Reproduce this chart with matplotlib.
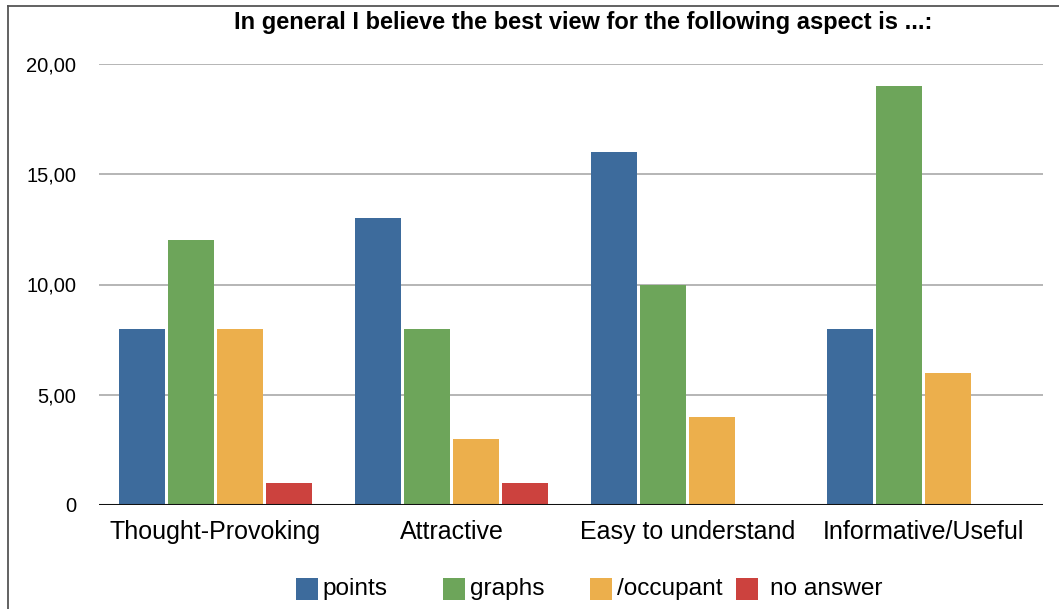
import matplotlib
matplotlib.use("Agg")
import matplotlib.pyplot as plt
import numpy as np
from matplotlib.lines import Line2D
from matplotlib.patches import Rectangle

plt.rcParams['font.family'] = ['Liberation Sans', 'DejaVu Sans']

title = "In general I believe the best view for the following aspect is ...:"
categories = ["Thought-Provoking", "Attractive", "Easy to understand", "Informative/Useful"]
series_names = ["points", "graphs", "/occupant", "no answer"]
points = [8, 13, 16, 8]
graphs = [12, 8, 10, 19]
occupant = [8, 3, 4, 6]
no_answer = [1, 1, 0, 0]
ytick_values = [0, 5, 10, 15, 20]
ytick_labels = ["0", "5,00", "10,00", "15,00", "20,00"]
colors = ["#3d6b9c", "#6da55a", "#ecaf4c", "#cc423e"]

series = [points, graphs, occupant, no_answer]

W, H = 1059, 609
fig = plt.figure(figsize=(W/100, H/100), dpi=100)
ax = fig.add_axes([99/W, 1-505/H, (1043-99)/W, (505-64)/H])

x = np.arange(len(categories)) + 0.5 - 1.5/236
step = 49/236
width = 46/236
for i, (vals, c, name) in enumerate(zip(series, colors, series_names)):
    ax.bar(x + (i - 1.5) * step, vals, width=width, color=c, label=name, zorder=3)

ax.set_xlim(0, len(categories))
ax.set_ylim(0, 20)
ax.set_yticks(ytick_values)
ax.set_yticklabels(ytick_labels, fontsize=14.5)
ax.set_xticks(x)
ax.set_xticklabels(categories, fontsize=18)
ax.tick_params(axis='y', length=0, pad=16.5)
ax.tick_params(axis='x', length=0, pad=11)
for v in ytick_values[1:]:
    ax.axhline(v, color='#b0b0b0', lw=1.3, zorder=1)
ax.axhline(0, color='#111111', lw=2.2, zorder=4)
for s in ax.spines.values():
    s.set_visible(False)

fig.text(583/W, 1-22/H, title, fontsize=17, fontweight='bold', ha='center', va='center')

# legend with equal-width entries
sq_x = [296, 443, 590, 736]
txt_x = [322, 470, 617, 770]
for c, name, sx, tx in zip(colors, series_names, sq_x, txt_x):
    fig.add_artist(Rectangle((sx/W, 1-600/H), 22/W, 22/H, facecolor=c, edgecolor='none',
                             transform=fig.transFigure))
    fig.text(tx/W, 1-589/H, name, fontsize=17.6, ha='left', va='center')

# outer frame
fig.add_artist(Line2D([8/W, 8/W], [0, 1-6/H], color='#555555', lw=1.3))
fig.add_artist(Line2D([8/W, 1], [1-6/H, 1-6/H], color='#555555', lw=1.3))

fig.savefig("out.png", dpi=100)
